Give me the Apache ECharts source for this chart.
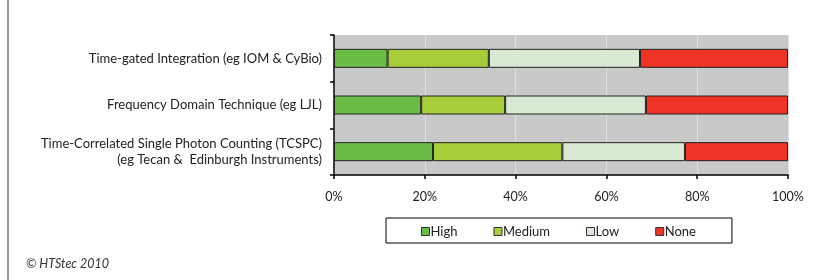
<!DOCTYPE html>
<html>
<head>
<meta charset="utf-8">
<script src="https://cdn.jsdelivr.net/npm/echarts@6/dist/echarts.min.js"></script>
<style>
  html, body { margin: 0; padding: 0; background: #fff; }
  #chart { width: 818px; height: 280px; }
</style>
</head>
<body>
<div id="chart"></div>
<script>
var categories = [
  'Time-gated Integration (eg IOM & CyBio)',
  'Frequency Domain Technique (eg LJL)',
  'Time-Correlated Single Photon Counting (TCSPC)\n(eg Tecan &  Edinburgh Instruments)'
]
var highData = [11.8, 19.2, 21.8]
var mediumData = [22.3, 18.5, 28.5]
var lowData = [33.3, 31.0, 27.0]
var noneData = [32.6, 31.3, 22.7]
var xTicks = [0, 20, 40, 60, 80, 100]

var font = 'Lato, "DejaVu Sans", sans-serif'
var chart = echarts.init(document.getElementById('chart'), null, { renderer: 'canvas' })

function barSeries(name, data, color) {
  return {
    name: name,
    type: 'bar',
    stack: 'total',
    barWidth: 19,
    data: data,
    itemStyle: { color: color, borderColor: '#222', borderWidth: 1 }
  }
}

chart.setOption({
  animation: false,
  textStyle: { fontFamily: font },
  grid: { left: 334, right: 30, top: 35, bottom: 105, show: true, backgroundColor: '#c9c9c9', borderWidth: 0 },
  xAxis: {
    type: 'value',
    min: xTicks[0],
    max: xTicks[xTicks.length - 1],
    interval: 20,
    axisLine: { show: true, lineStyle: { color: '#000', width: 1.5 } },
    axisTick: { show: true, length: 4, lineStyle: { color: '#000', width: 1.5 } },
    axisLabel: { formatter: '{value}%', color: '#222', fontSize: 12.5, margin: 15, fontFamily: font }
  },
  yAxis: {
    type: 'category',
    inverse: true,
    data: categories,
    axisLine: { show: true, lineStyle: { color: '#000', width: 1.5 } },
    axisTick: { show: true, length: 4, lineStyle: { color: '#000', width: 1.5 } },
    axisLabel: { color: '#222', fontSize: 13, margin: 12, lineHeight: 16, padding: [5, 0, 0, 0], fontFamily: font }
  },
  legend: {
    data: ['High', 'Medium', 'Low', 'None'],
    left: 386,
    top: 218,
    padding: [7, 36, 5, 35],
    borderColor: '#000',
    borderWidth: 1,
    itemWidth: 8,
    itemHeight: 8,
    itemGap: 36,
    icon: 'rect',
    itemStyle: { borderColor: '#333', borderWidth: 1 },
    textStyle: { color: '#222', fontSize: 13, fontFamily: font, padding: [0, 0, 0, -4] }
  },
  series: [
    barSeries('High', highData, '#69bd45'),
    barSeries('Medium', mediumData, '#a7cd3a'),
    barSeries('Low', lowData, '#d9e9d3'),
    barSeries('None', noneData, '#ef3324')
  ],
  graphic: [
    { type: 'line', shape: { x1: 8, y1: 0, x2: 8, y2: 280 }, style: { stroke: '#333', lineWidth: 1 } },
    { type: 'text', left: 26, top: 257, style: { text: '© HTStec 2010', fill: '#333', fontStyle: 'italic', fontSize: 12.5, fontFamily: font } }
  ]
})
</script>
</body>
</html>
